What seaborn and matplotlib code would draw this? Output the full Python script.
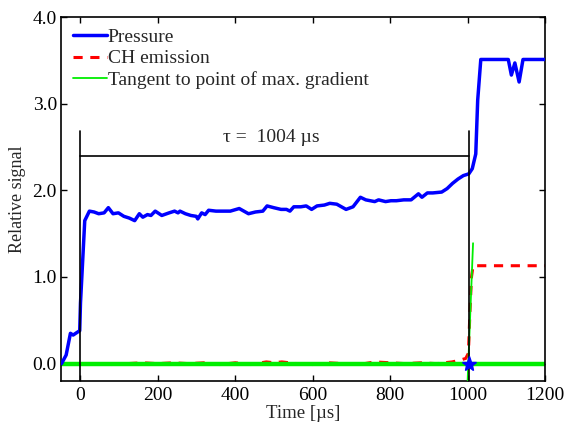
import numpy as np
import pandas as pd
import matplotlib
matplotlib.use("Agg")
import matplotlib.pyplot as plt
import seaborn as sns

# Pressure trace (time in µs, relative signal)
p_time = [-49, -37, -26, -19, -9, -2, 0, 11, 23, 35, 47, 61, 72, 84, 98, 112, 126, 140,
          152, 161, 173, 182, 193, 210, 229, 243, 252, 257, 271, 285, 299, 303, 313, 322,
          331, 350, 368, 387, 410, 434, 452, 471, 482, 499, 518, 532, 541, 551, 569, 583,
          597, 611, 630, 644, 662, 686, 704, 723, 737, 760, 770, 788, 802, 816, 835, 854,
          873, 882, 896, 910, 933, 947, 961, 975, 989, 1003, 1012, 1021, 1026, 1034, 1105,
          1113, 1122, 1133, 1143, 1200]
p_val = [0.0, 0.10, 0.35, 0.33, 0.36, 0.38, 0.70, 1.65, 1.76, 1.75, 1.73, 1.74, 1.80, 1.73,
         1.74, 1.70, 1.68, 1.65, 1.73, 1.69, 1.72, 1.71, 1.76, 1.71, 1.74, 1.76, 1.74, 1.76,
         1.73, 1.71, 1.70, 1.67, 1.74, 1.72, 1.77, 1.76, 1.76, 1.76, 1.79, 1.73, 1.75, 1.76,
         1.82, 1.80, 1.78, 1.78, 1.76, 1.81, 1.81, 1.82, 1.78, 1.82, 1.83, 1.85, 1.84, 1.78,
         1.81, 1.92, 1.89, 1.87, 1.89, 1.87, 1.88, 1.88, 1.89, 1.89, 1.96, 1.92, 1.97, 1.97,
         1.98, 2.02, 2.08, 2.13, 2.17, 2.19, 2.25, 2.42, 3.04, 3.51, 3.51, 3.33, 3.47, 3.25,
         3.51, 3.51]

# CH emission trace
ch_time = [-50, 0, 40, 80, 120, 160, 200, 240, 280, 320, 360, 400, 440, 480, 500, 520,
           560, 600, 640, 680, 720, 760, 800, 840, 880, 920, 960, 980, 995, 1002, 1006,
           1010, 1014, 1200]
ch_val = [0.0, -0.01, 0.0, -0.01, 0.0, 0.01, 0.0, 0.01, 0.0, 0.01, -0.01, 0.01, -0.01,
          0.02, 0.01, 0.02, 0.0, -0.01, 0.01, 0.0, -0.01, 0.02, 0.01, 0.0, 0.01, 0.0,
          0.02, 0.04, 0.06, 0.12, 0.6, 1.0, 1.13, 1.13]

# Tangent to point of max. gradient
tan_time = [1000, 1014]
tan_val = [-0.19, 1.39]

# Baseline
base_time = [-50, 1200]
base_val = [0.0, 0.0]

# Ignition delay
tau = 1004
tau_label = "τ =  1004 µs"

sns.set_style("ticks")
plt.rcParams['font.family'] = ['Liberation Serif', 'DejaVu Serif']
plt.rcParams['mathtext.fontset'] = 'stix'

fig = plt.figure(figsize=(5.66, 4.22), dpi=100)
ax = fig.add_axes([0.108, 0.0972, 0.855, 0.8625])

dfp = pd.DataFrame({"t": p_time, "v": p_val})
dfc = pd.DataFrame({"t": ch_time, "v": ch_val})
dft = pd.DataFrame({"t": tan_time, "v": tan_val})
dfb = pd.DataFrame({"t": base_time, "v": base_val})

sns.lineplot(data=dfb, x="t", y="v", ax=ax, color="#00ee00", lw=3.2, estimator=None, sort=False, zorder=2)
sns.lineplot(data=dfp, x="t", y="v", ax=ax, color="#0000ff", lw=2.5, estimator=None, sort=False,
             label="Pressure", zorder=4)
sns.lineplot(data=dfc, x="t", y="v", ax=ax, color="#ff0000", lw=2.2, estimator=None, sort=False,
             label="CH emission", zorder=1.5)
ax.lines[-1].set_dashes([3, 2.5])
sns.lineplot(data=dft, x="t", y="v", ax=ax, color="#00ee00", lw=1.3, estimator=None, sort=False,
             label="Tangent to point of max. gradient", zorder=3)

# tau annotation
ax.plot([0, 0], [-0.2, 2.69], color="black", lw=1.2, zorder=5)
ax.plot([tau, tau], [-0.2, 2.69], color="black", lw=1.2, zorder=5)
ax.plot([0, tau], [2.4, 2.4], color="black", lw=1.2, zorder=5)
ax.text(tau / 2 - 10, 2.61, tau_label, ha="center", va="center", fontsize=14)
ax.plot([tau], [0.0], marker="*", color="#0000ff", markersize=11, zorder=6, ls="none")

ax.set_xlim(-50, 1200)
ax.set_ylim(-0.2, 4.0)
ax.set_xticks([0, 200, 400, 600, 800, 1000, 1200])
ax.set_yticks([0, 1, 2, 3, 4])
ax.set_yticklabels(["0.0", "1.0", "2.0", "3.0", "4.0"])
ax.tick_params(direction="in", top=True, right=True, labelsize=14, length=4, width=1, colors="black")
ax.tick_params(axis="x", pad=4)
ax.tick_params(axis="y", pad=3)
for s in ax.spines.values():
    s.set_visible(True)
    s.set_color("black")
    s.set_linewidth(1.2)
ax.set_xlabel("Time [µs]", fontsize=13.5)
ax.xaxis.set_label_coords(0.5, -0.066)
ax.set_ylabel("Relative signal", fontsize=13, labelpad=5)

leg = ax.legend(loc="upper left", frameon=False, fontsize=14, handlelength=1.75,
                handletextpad=0.05, labelspacing=0.18, borderaxespad=0.2)

fig.savefig("out.png", dpi=100)
